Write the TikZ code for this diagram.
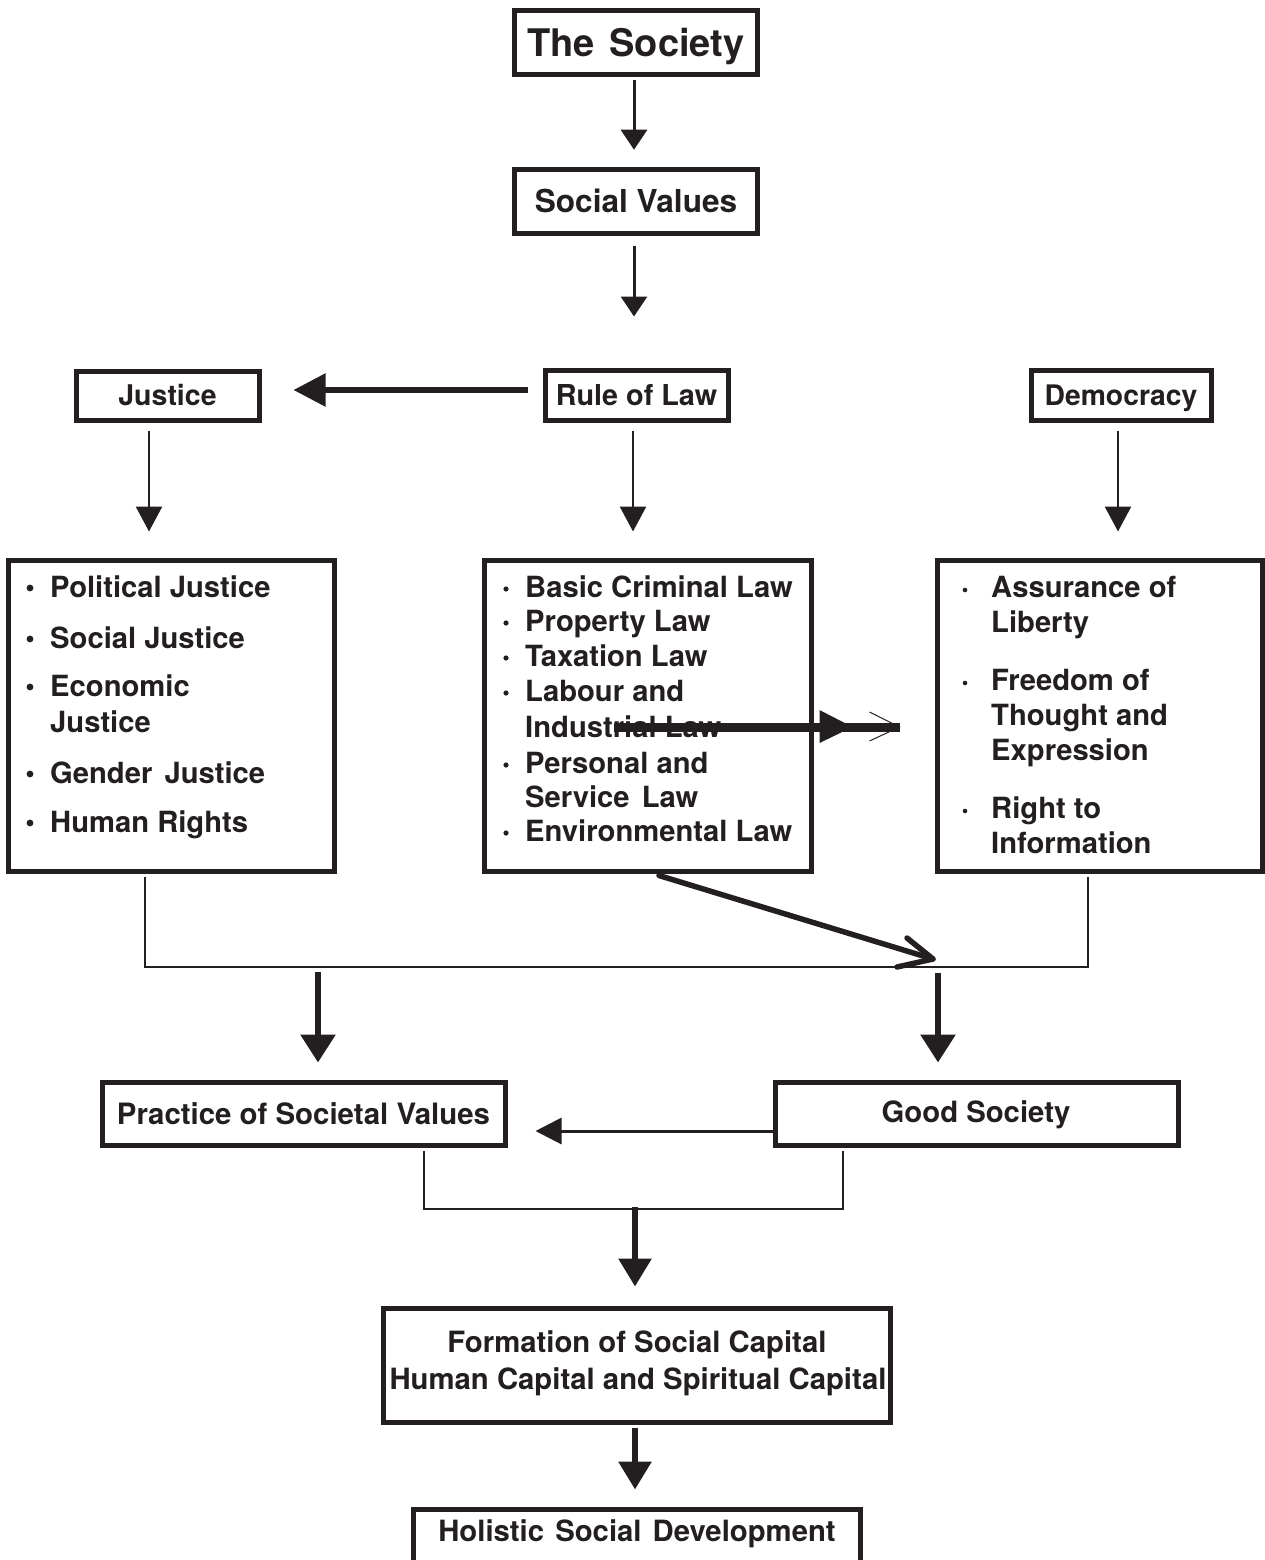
\documentclass[tikz,border=0pt]{standalone}
\usepackage{fontspec}
\setmainfont{TeX Gyre Heros}
\usetikzlibrary{arrows.meta,calc}
\definecolor{ink}{RGB}{35,31,32}
\newcommand{\fsz}[1]{\fontsize{#1}{#1}\selectfont\bfseries}
\tikzset{
  box/.style={draw=ink, line width=5pt, inner sep=0pt, text depth=0pt, text=ink},
  lbl/.style={inner sep=0pt, anchor=base west, font=\fsz{29.2}, text=ink},
  lblc/.style={inner sep=0pt, anchor=base, font=\fsz{29.3}, text=ink},
  thinarr/.style={draw=ink, line width=2.6pt, -{Triangle[length=25pt,width=26pt]}},
  midarr/.style={draw=ink, line width=3pt, -{Triangle[length=26pt,width=26pt]}},
  thickarr/.style={draw=ink, line width=6pt, -{Triangle[length=28pt,width=34pt]}},
  conn/.style={draw=ink, line width=2pt},
}
\begin{document}
\begin{tikzpicture}[x=1pt,y=-1pt]
\clip (0,0) rectangle (1265,1560);
\fill[white] (0,0) rectangle (1265,1560);

% boxes
\node[box, line width=5.5pt, minimum width=243pt, minimum height=64pt, font=\fsz{38}, text height=27.3pt] (soc) at (636,42.5) {The\hspace{4pt} Society};
\node[box, line width=5.5pt, minimum width=243pt, minimum height=64pt, font=\fsz{31.6}, text height=22.7pt] (val) at (636,201.5) {Social Values};
\node[box, minimum width=183pt, minimum height=49pt, font=\fsz{28.5}, text height=20.5pt] (jus) at (167.5,395.5) {Justice};
\node[box, minimum width=183pt, minimum height=50pt, font=\fsz{28.8}, text height=20.7pt] (rol) at (636.5,395) {Rule of Law};
\node[box, minimum width=180pt, minimum height=50pt, font=\fsz{28.3}, text height=20.4pt] (dem) at (1121,395) {Democracy};
\node[box, minimum width=326pt, minimum height=311pt] (L) at (171,715.5) {};
\node[box, minimum width=327pt, minimum height=311pt] (M) at (647.5,715.5) {};
\node[box, minimum width=325pt, minimum height=311pt] (R) at (1099.5,715.5) {};
\node[box, minimum width=403pt, minimum height=63pt, font=\fsz{29.4}, text height=21.1pt] (prac) at (303.5,1113.5) {Practice of Societal Values};
\node[box, minimum width=403pt, minimum height=63pt] (good) at (976.5,1113.5) {};
\node[box, minimum width=507pt, minimum height=114pt] (form) at (636.5,1365) {};
\node[box, minimum width=447pt, minimum height=89pt] (hol) at (636.5,1553.5) {};

% centred texts placed by baseline
\node[lblc] (goodt) at (976,1122) {Good Society};
\node[lblc] (form1) at (637,1352) {Formation of Social Capital};
\node[lblc] (form2) at (638,1389) {Human Capital and Spiritual Capital};
\node[lblc] (holt) at (637,1541) {Holistic\hspace{3pt} Social\hspace{3pt} Development};

% left list
\node[lbl] (l1) at (50,597) {Political Justice};
\node[lbl] (l2) at (50,648) {Social Justice};
\node[lbl] (l3) at (50,696) {Economic};
\node[lbl] (l4) at (50,732) {Justice};
\node[lbl] (l5) at (50,783) {Gender\hspace{4pt} Justice};
\node[lbl] (l6) at (50,832) {Human Rights};
\foreach \yy in {588,639,687,774,823} \fill[ink] (30,\yy) circle (3.4);

% middle list
\node[lbl] (m1) at (525,597) {Basic Criminal Law};
\node[lbl] (m2) at (525,631) {Property Law};
\node[lbl] (m3) at (525,666) {Taxation Law};
\node[lbl] (m4) at (525,701) {Labour and};
\node[lbl] (m5) at (525,737) {Industrial Law};
\node[lbl] (m6) at (525,773) {Personal and};
\node[lbl] (m7) at (525,807) {Service\hspace{4pt} Law};
\node[lbl] (m8) at (525,841) {Environmental Law};
\foreach \yy in {589,623,658,693,765,833} \fill[ink] (506,\yy) circle (2.6);

% right list
\node[lbl] (r1) at (991,597) {Assurance of};
\node[lbl] (r2) at (991,632) {Liberty};
\node[lbl] (r3) at (991,690) {Freedom of};
\node[lbl] (r4) at (991,725) {Thought and};
\node[lbl] (r5) at (991,760) {Expression};
\node[lbl] (r6) at (991,818) {Right to};
\node[lbl] (r7) at (991,853) {Information};
\foreach \yy in {590,683,811} \fill[ink] (965,\yy) circle (2.3);

% arrows top
\draw[midarr, -{Triangle[length=20pt,width=26pt]}] ($(soc.south)+(-2,3)$) -- ($(val.north)+(-2,-17)$);
\draw[midarr, -{Triangle[length=20pt,width=26pt]}] ($(val.south)+(-2,10)$) -- ($(rol.north)+(-2.5,-51)$);
\draw[draw=ink, line width=5.5pt, -{Triangle[length=32pt,width=32pt]}] ($(rol.west)+(-15,-5)$) -- ($(jus.east)+(32,-5.5)$);
\draw[thinarr] ($(jus.south)+(-18.5,8)$) -- ($(L.north)+(-22,-26)$);
\draw[thinarr] ($(rol.south)+(-3.5,8)$) -- ($(M.north)+(-14.5,-26)$);
\draw[thinarr] ($(dem.south)+(-3,8)$) -- ($(R.north)+(18.5,-26)$);

% arrow across the middle box
\coordinate (hs) at ($(M.east)+(-200,11.5)$);
\coordinate (he) at ($(R.west)+(-35,11.5)$);
\draw[draw=ink, line width=9pt] (hs) -- (he);
\fill[ink] ($(he)+(-80,-17)$) -- ($(he)+(-47,0)$) -- ($(he)+(-80,16)$) -- cycle;
\draw[ink, line width=1pt] ($(he)+(-30,-15)$) -- (he) -- ($(he)+(-30,14)$);

% joining line below lists
\coordinate (jr) at ($(R.south)+(-11.5,93)$);
\draw[conn] ($(L.south)+(-26,3)$) |- (jr) -- ($(R.south)+(-11.5,3)$);
\coordinate (dg) at (933,959);
\draw[draw=ink, line width=5.5pt, line cap=round] ($(M.south)+(11.5,2)$) -- (dg);
\draw[draw=ink, line width=5.5pt, line cap=round, line join=round] ($(dg)+(-26,-21)$) -- (dg) -- ($(dg)+(-36,8)$);
\coordinate (d1) at (318,972);
\coordinate (d2) at (938,973);
\draw[thickarr] (d1) -- ($(prac.north)+(14.5,-17)$);
\draw[thickarr] (d2) -- ($(good.north)+(-38.5,-17)$);

% Good society -> practice
\draw[midarr] ($(good.west)+(0,17.5)$) -- ($(prac.east)+(28,17.5)$);

% lower join
\coordinate (jb) at ($(good.south)+(-133.5,61)$);
\draw[conn] ($(prac.south)+(120.5,3)$) |- (jb) -- ($(good.south)+(-133.5,3)$);
\coordinate (d3) at (635,1207);
\draw[thickarr, -{Triangle[length=28pt,width=32pt]}] (d3) -- ($(form.north)+(-1.5,-19)$);
\draw[thickarr, -{Triangle[length=28pt,width=32pt]}] ($(form.south)+(-1.5,3)$) -- ($(hol.north)+(-1.5,-17)$);
\end{tikzpicture}
\end{document}
